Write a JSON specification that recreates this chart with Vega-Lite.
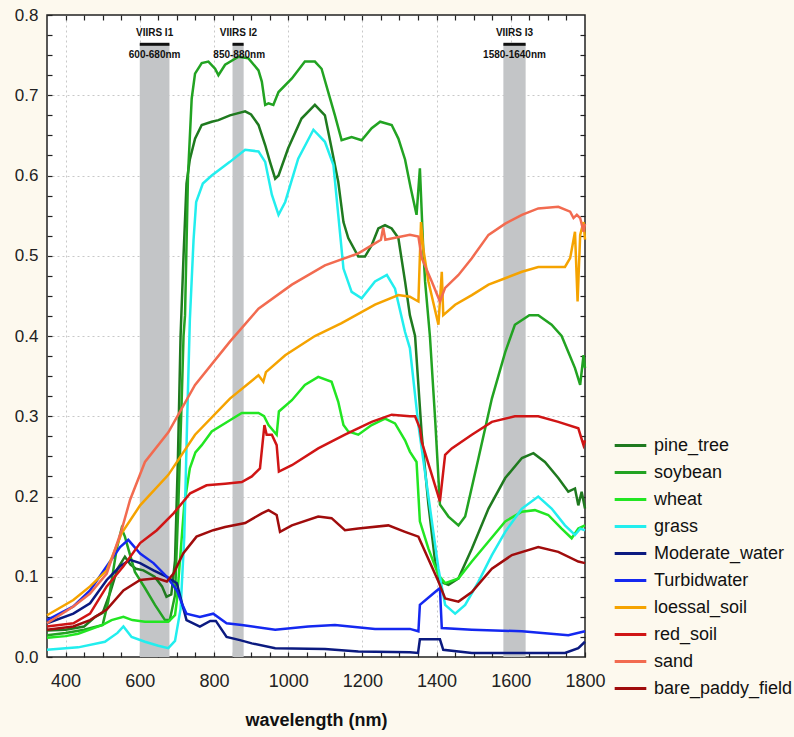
{
  "$schema": "https://vega.github.io/schema/vega-lite/v6.json",
  "width": 538,
  "height": 642,
  "autosize": {"type": "none"},
  "padding": {"left": 47, "top": 15, "right": 209, "bottom": 80},
  "background": "#fdf9ee",
  "config": {
    "view": {"stroke": "#222", "strokeWidth": 1.5, "fill": "white"},
    "font": "Liberation Sans"
  },
  "datasets": {
    "bands": [
      {"a": 600, "b": 680, "y0": 0, "y1": 0.764},
      {"a": 850, "b": 880, "y0": 0, "y1": 0.764},
      {"a": 1580, "b": 1640, "y0": 0, "y1": 0.764}
    ],
    "labels": [
      {"t": "VIIRS I1", "x": 640, "y": 0.777},
      {"t": "600-680nm", "x": 640, "y": 0.750},
      {"t": "VIIRS I2", "x": 866, "y": 0.777},
      {"t": "850-880nm", "x": 868, "y": 0.750},
      {"t": "VIIRS I3", "x": 1610, "y": 0.777},
      {"t": "1580-1640nm", "x": 1610, "y": 0.750}
    ],
    "spectra": [
      {"s":"pine_tree","w":350,"v":0.033},{"s":"pine_tree","w":400,"v":0.034},{"s":"pine_tree","w":450,"v":0.038},{"s":"pine_tree","w":480,"v":0.05},{"s":"pine_tree","w":500,"v":0.055},{"s":"pine_tree","w":520,"v":0.08},{"s":"pine_tree","w":540,"v":0.11},{"s":"pine_tree","w":560,"v":0.125},{"s":"pine_tree","w":575,"v":0.115},{"s":"pine_tree","w":590,"v":0.11},{"s":"pine_tree","w":610,"v":0.108},{"s":"pine_tree","w":640,"v":0.1},{"s":"pine_tree","w":660,"v":0.088},{"s":"pine_tree","w":672,"v":0.075},{"s":"pine_tree","w":685,"v":0.078},{"s":"pine_tree","w":695,"v":0.12},{"s":"pine_tree","w":703,"v":0.25},{"s":"pine_tree","w":710,"v":0.4},{"s":"pine_tree","w":718,"v":0.5},{"s":"pine_tree","w":726,"v":0.59},{"s":"pine_tree","w":735,"v":0.62},{"s":"pine_tree","w":749,"v":0.646},{"s":"pine_tree","w":767,"v":0.663},{"s":"pine_tree","w":794,"v":0.667},{"s":"pine_tree","w":812,"v":0.669},{"s":"pine_tree","w":843,"v":0.675},{"s":"pine_tree","w":884,"v":0.68},{"s":"pine_tree","w":900,"v":0.676},{"s":"pine_tree","w":920,"v":0.663},{"s":"pine_tree","w":938,"v":0.638},{"s":"pine_tree","w":951,"v":0.617},{"s":"pine_tree","w":965,"v":0.596},{"s":"pine_tree","w":974,"v":0.6},{"s":"pine_tree","w":1000,"v":0.634},{"s":"pine_tree","w":1036,"v":0.671},{"s":"pine_tree","w":1072,"v":0.688},{"s":"pine_tree","w":1099,"v":0.675},{"s":"pine_tree","w":1117,"v":0.634},{"s":"pine_tree","w":1135,"v":0.592},{"s":"pine_tree","w":1149,"v":0.542},{"s":"pine_tree","w":1162,"v":0.522},{"s":"pine_tree","w":1189,"v":0.499},{"s":"pine_tree","w":1207,"v":0.499},{"s":"pine_tree","w":1225,"v":0.513},{"s":"pine_tree","w":1243,"v":0.534},{"s":"pine_tree","w":1261,"v":0.538},{"s":"pine_tree","w":1279,"v":0.534},{"s":"pine_tree","w":1297,"v":0.522},{"s":"pine_tree","w":1315,"v":0.468},{"s":"pine_tree","w":1328,"v":0.426},{"s":"pine_tree","w":1342,"v":0.4},{"s":"pine_tree","w":1360,"v":0.277},{"s":"pine_tree","w":1378,"v":0.19},{"s":"pine_tree","w":1396,"v":0.119},{"s":"pine_tree","w":1409,"v":0.094},{"s":"pine_tree","w":1432,"v":0.09},{"s":"pine_tree","w":1459,"v":0.098},{"s":"pine_tree","w":1495,"v":0.135},{"s":"pine_tree","w":1540,"v":0.185},{"s":"pine_tree","w":1585,"v":0.223},{"s":"pine_tree","w":1630,"v":0.248},{"s":"pine_tree","w":1661,"v":0.254},{"s":"pine_tree","w":1692,"v":0.243},{"s":"pine_tree","w":1728,"v":0.223},{"s":"pine_tree","w":1755,"v":0.206},{"s":"pine_tree","w":1773,"v":0.21},{"s":"pine_tree","w":1782,"v":0.189},{"s":"pine_tree","w":1791,"v":0.206},{"s":"pine_tree","w":1800,"v":0.185},
      {"s":"soybean","w":350,"v":0.027},{"s":"soybean","w":400,"v":0.03},{"s":"soybean","w":450,"v":0.034},{"s":"soybean","w":500,"v":0.04},{"s":"soybean","w":515,"v":0.069},{"s":"soybean","w":538,"v":0.135},{"s":"soybean","w":551,"v":0.16},{"s":"soybean","w":560,"v":0.15},{"s":"soybean","w":569,"v":0.135},{"s":"soybean","w":587,"v":0.106},{"s":"soybean","w":614,"v":0.086},{"s":"soybean","w":641,"v":0.065},{"s":"soybean","w":668,"v":0.046},{"s":"soybean","w":681,"v":0.046},{"s":"soybean","w":695,"v":0.077},{"s":"soybean","w":704,"v":0.19},{"s":"soybean","w":713,"v":0.32},{"s":"soybean","w":718,"v":0.4},{"s":"soybean","w":722,"v":0.426},{"s":"soybean","w":730,"v":0.6},{"s":"soybean","w":740,"v":0.696},{"s":"soybean","w":749,"v":0.727},{"s":"soybean","w":767,"v":0.74},{"s":"soybean","w":785,"v":0.742},{"s":"soybean","w":803,"v":0.733},{"s":"soybean","w":812,"v":0.725},{"s":"soybean","w":830,"v":0.738},{"s":"soybean","w":866,"v":0.748},{"s":"soybean","w":893,"v":0.746},{"s":"soybean","w":920,"v":0.731},{"s":"soybean","w":929,"v":0.717},{"s":"soybean","w":938,"v":0.688},{"s":"soybean","w":947,"v":0.69},{"s":"soybean","w":960,"v":0.688},{"s":"soybean","w":974,"v":0.704},{"s":"soybean","w":1010,"v":0.721},{"s":"soybean","w":1045,"v":0.742},{"s":"soybean","w":1072,"v":0.742},{"s":"soybean","w":1090,"v":0.733},{"s":"soybean","w":1108,"v":0.704},{"s":"soybean","w":1126,"v":0.675},{"s":"soybean","w":1144,"v":0.644},{"s":"soybean","w":1171,"v":0.648},{"s":"soybean","w":1198,"v":0.644},{"s":"soybean","w":1225,"v":0.659},{"s":"soybean","w":1248,"v":0.667},{"s":"soybean","w":1279,"v":0.663},{"s":"soybean","w":1297,"v":0.646},{"s":"soybean","w":1315,"v":0.62},{"s":"soybean","w":1330,"v":0.585},{"s":"soybean","w":1346,"v":0.551},{"s":"soybean","w":1355,"v":0.609},{"s":"soybean","w":1364,"v":0.509},{"s":"soybean","w":1369,"v":0.468},{"s":"soybean","w":1382,"v":0.4},{"s":"soybean","w":1396,"v":0.297},{"s":"soybean","w":1409,"v":0.19},{"s":"soybean","w":1432,"v":0.175},{"s":"soybean","w":1459,"v":0.164},{"s":"soybean","w":1477,"v":0.175},{"s":"soybean","w":1513,"v":0.248},{"s":"soybean","w":1549,"v":0.322},{"s":"soybean","w":1585,"v":0.38},{"s":"soybean","w":1611,"v":0.414},{"s":"soybean","w":1650,"v":0.426},{"s":"soybean","w":1674,"v":0.426},{"s":"soybean","w":1710,"v":0.414},{"s":"soybean","w":1737,"v":0.4},{"s":"soybean","w":1755,"v":0.38},{"s":"soybean","w":1773,"v":0.36},{"s":"soybean","w":1787,"v":0.339},{"s":"soybean","w":1796,"v":0.376},{"s":"soybean","w":1800,"v":0.36},
      {"s":"wheat","w":350,"v":0.024},{"s":"wheat","w":400,"v":0.026},{"s":"wheat","w":434,"v":0.029},{"s":"wheat","w":500,"v":0.04},{"s":"wheat","w":524,"v":0.046},{"s":"wheat","w":556,"v":0.05},{"s":"wheat","w":580,"v":0.046},{"s":"wheat","w":614,"v":0.044},{"s":"wheat","w":650,"v":0.044},{"s":"wheat","w":677,"v":0.044},{"s":"wheat","w":695,"v":0.052},{"s":"wheat","w":700,"v":0.07},{"s":"wheat","w":710,"v":0.13},{"s":"wheat","w":720,"v":0.19},{"s":"wheat","w":735,"v":0.235},{"s":"wheat","w":750,"v":0.255},{"s":"wheat","w":767,"v":0.264},{"s":"wheat","w":794,"v":0.281},{"s":"wheat","w":843,"v":0.295},{"s":"wheat","w":875,"v":0.304},{"s":"wheat","w":920,"v":0.304},{"s":"wheat","w":935,"v":0.3},{"s":"wheat","w":947,"v":0.289},{"s":"wheat","w":969,"v":0.277},{"s":"wheat","w":975,"v":0.306},{"s":"wheat","w":1010,"v":0.32},{"s":"wheat","w":1045,"v":0.339},{"s":"wheat","w":1081,"v":0.349},{"s":"wheat","w":1117,"v":0.343},{"s":"wheat","w":1135,"v":0.318},{"s":"wheat","w":1149,"v":0.289},{"s":"wheat","w":1162,"v":0.281},{"s":"wheat","w":1189,"v":0.277},{"s":"wheat","w":1225,"v":0.289},{"s":"wheat","w":1261,"v":0.297},{"s":"wheat","w":1288,"v":0.291},{"s":"wheat","w":1315,"v":0.27},{"s":"wheat","w":1328,"v":0.256},{"s":"wheat","w":1346,"v":0.243},{"s":"wheat","w":1355,"v":0.169},{"s":"wheat","w":1378,"v":0.135},{"s":"wheat","w":1405,"v":0.102},{"s":"wheat","w":1423,"v":0.092},{"s":"wheat","w":1459,"v":0.098},{"s":"wheat","w":1495,"v":0.119},{"s":"wheat","w":1540,"v":0.144},{"s":"wheat","w":1585,"v":0.169},{"s":"wheat","w":1630,"v":0.181},{"s":"wheat","w":1665,"v":0.183},{"s":"wheat","w":1701,"v":0.177},{"s":"wheat","w":1737,"v":0.16},{"s":"wheat","w":1764,"v":0.148},{"s":"wheat","w":1782,"v":0.16},{"s":"wheat","w":1800,"v":0.164},
      {"s":"grass","w":350,"v":0.009},{"s":"grass","w":434,"v":0.012},{"s":"grass","w":506,"v":0.019},{"s":"grass","w":540,"v":0.03},{"s":"grass","w":556,"v":0.038},{"s":"grass","w":578,"v":0.025},{"s":"grass","w":614,"v":0.019},{"s":"grass","w":650,"v":0.014},{"s":"grass","w":677,"v":0.011},{"s":"grass","w":695,"v":0.02},{"s":"grass","w":710,"v":0.06},{"s":"grass","w":720,"v":0.15},{"s":"grass","w":728,"v":0.3},{"s":"grass","w":735,"v":0.42},{"s":"grass","w":745,"v":0.52},{"s":"grass","w":752,"v":0.567},{"s":"grass","w":770,"v":0.59},{"s":"grass","w":794,"v":0.6},{"s":"grass","w":843,"v":0.617},{"s":"grass","w":884,"v":0.632},{"s":"grass","w":920,"v":0.63},{"s":"grass","w":938,"v":0.617},{"s":"grass","w":956,"v":0.576},{"s":"grass","w":974,"v":0.551},{"s":"grass","w":992,"v":0.567},{"s":"grass","w":1027,"v":0.621},{"s":"grass","w":1068,"v":0.657},{"s":"grass","w":1099,"v":0.642},{"s":"grass","w":1122,"v":0.613},{"s":"grass","w":1135,"v":0.551},{"s":"grass","w":1149,"v":0.484},{"s":"grass","w":1171,"v":0.455},{"s":"grass","w":1198,"v":0.447},{"s":"grass","w":1234,"v":0.468},{"s":"grass","w":1266,"v":0.476},{"s":"grass","w":1288,"v":0.459},{"s":"grass","w":1315,"v":0.405},{"s":"grass","w":1328,"v":0.385},{"s":"grass","w":1351,"v":0.289},{"s":"grass","w":1378,"v":0.2},{"s":"grass","w":1405,"v":0.11},{"s":"grass","w":1423,"v":0.065},{"s":"grass","w":1450,"v":0.054},{"s":"grass","w":1477,"v":0.065},{"s":"grass","w":1513,"v":0.094},{"s":"grass","w":1549,"v":0.127},{"s":"grass","w":1585,"v":0.156},{"s":"grass","w":1630,"v":0.185},{"s":"grass","w":1674,"v":0.2},{"s":"grass","w":1710,"v":0.185},{"s":"grass","w":1746,"v":0.164},{"s":"grass","w":1773,"v":0.152},{"s":"grass","w":1787,"v":0.16},{"s":"grass","w":1800,"v":0.158},
      {"s":"Moderate_water","w":350,"v":0.042},{"s":"Moderate_water","w":421,"v":0.054},{"s":"Moderate_water","w":466,"v":0.067},{"s":"Moderate_water","w":511,"v":0.096},{"s":"Moderate_water","w":547,"v":0.113},{"s":"Moderate_water","w":574,"v":0.121},{"s":"Moderate_water","w":601,"v":0.117},{"s":"Moderate_water","w":637,"v":0.108},{"s":"Moderate_water","w":673,"v":0.1},{"s":"Moderate_water","w":700,"v":0.092},{"s":"Moderate_water","w":715,"v":0.065},{"s":"Moderate_water","w":726,"v":0.046},{"s":"Moderate_water","w":762,"v":0.038},{"s":"Moderate_water","w":790,"v":0.045},{"s":"Moderate_water","w":805,"v":0.045},{"s":"Moderate_water","w":834,"v":0.025},{"s":"Moderate_water","w":870,"v":0.021},{"s":"Moderate_water","w":902,"v":0.017},{"s":"Moderate_water","w":965,"v":0.011},{"s":"Moderate_water","w":1099,"v":0.01},{"s":"Moderate_water","w":1189,"v":0.007},{"s":"Moderate_water","w":1328,"v":0.006},{"s":"Moderate_water","w":1350,"v":0.005},{"s":"Moderate_water","w":1355,"v":0.022},{"s":"Moderate_water","w":1409,"v":0.022},{"s":"Moderate_water","w":1418,"v":0.009},{"s":"Moderate_water","w":1495,"v":0.005},{"s":"Moderate_water","w":1746,"v":0.005},{"s":"Moderate_water","w":1782,"v":0.011},{"s":"Moderate_water","w":1800,"v":0.019},
      {"s":"Turbidwater","w":350,"v":0.046},{"s":"Turbidwater","w":421,"v":0.063},{"s":"Turbidwater","w":466,"v":0.083},{"s":"Turbidwater","w":511,"v":0.113},{"s":"Turbidwater","w":547,"v":0.137},{"s":"Turbidwater","w":569,"v":0.146},{"s":"Turbidwater","w":601,"v":0.129},{"s":"Turbidwater","w":637,"v":0.117},{"s":"Turbidwater","w":673,"v":0.1},{"s":"Turbidwater","w":700,"v":0.083},{"s":"Turbidwater","w":715,"v":0.065},{"s":"Turbidwater","w":726,"v":0.054},{"s":"Turbidwater","w":762,"v":0.05},{"s":"Turbidwater","w":798,"v":0.054},{"s":"Turbidwater","w":834,"v":0.042},{"s":"Turbidwater","w":875,"v":0.04},{"s":"Turbidwater","w":965,"v":0.034},{"s":"Turbidwater","w":1054,"v":0.038},{"s":"Turbidwater","w":1126,"v":0.04},{"s":"Turbidwater","w":1234,"v":0.035},{"s":"Turbidwater","w":1328,"v":0.035},{"s":"Turbidwater","w":1351,"v":0.032},{"s":"Turbidwater","w":1355,"v":0.065},{"s":"Turbidwater","w":1396,"v":0.081},{"s":"Turbidwater","w":1409,"v":0.086},{"s":"Turbidwater","w":1414,"v":0.036},{"s":"Turbidwater","w":1495,"v":0.034},{"s":"Turbidwater","w":1630,"v":0.032},{"s":"Turbidwater","w":1755,"v":0.027},{"s":"Turbidwater","w":1800,"v":0.032},
      {"s":"loessal_soil","w":350,"v":0.052},{"s":"loessal_soil","w":421,"v":0.071},{"s":"loessal_soil","w":466,"v":0.088},{"s":"loessal_soil","w":511,"v":0.108},{"s":"loessal_soil","w":551,"v":0.154},{"s":"loessal_soil","w":601,"v":0.189},{"s":"loessal_soil","w":677,"v":0.227},{"s":"loessal_soil","w":749,"v":0.277},{"s":"loessal_soil","w":843,"v":0.322},{"s":"loessal_soil","w":920,"v":0.351},{"s":"loessal_soil","w":933,"v":0.343},{"s":"loessal_soil","w":940,"v":0.355},{"s":"loessal_soil","w":992,"v":0.376},{"s":"loessal_soil","w":1072,"v":0.4},{"s":"loessal_soil","w":1144,"v":0.416},{"s":"loessal_soil","w":1234,"v":0.439},{"s":"loessal_soil","w":1297,"v":0.451},{"s":"loessal_soil","w":1328,"v":0.449},{"s":"loessal_soil","w":1351,"v":0.443},{"s":"loessal_soil","w":1358,"v":0.542},{"s":"loessal_soil","w":1364,"v":0.509},{"s":"loessal_soil","w":1378,"v":0.468},{"s":"loessal_soil","w":1405,"v":0.414},{"s":"loessal_soil","w":1414,"v":0.48},{"s":"loessal_soil","w":1418,"v":0.426},{"s":"loessal_soil","w":1450,"v":0.439},{"s":"loessal_soil","w":1495,"v":0.451},{"s":"loessal_soil","w":1540,"v":0.464},{"s":"loessal_soil","w":1585,"v":0.472},{"s":"loessal_soil","w":1630,"v":0.48},{"s":"loessal_soil","w":1674,"v":0.486},{"s":"loessal_soil","w":1746,"v":0.486},{"s":"loessal_soil","w":1760,"v":0.497},{"s":"loessal_soil","w":1773,"v":0.53},{"s":"loessal_soil","w":1780,"v":0.443},{"s":"loessal_soil","w":1787,"v":0.526},{"s":"loessal_soil","w":1796,"v":0.542},{"s":"loessal_soil","w":1800,"v":0.52},
      {"s":"red_soil","w":350,"v":0.038},{"s":"red_soil","w":421,"v":0.042},{"s":"red_soil","w":466,"v":0.054},{"s":"red_soil","w":511,"v":0.088},{"s":"red_soil","w":556,"v":0.113},{"s":"red_soil","w":601,"v":0.142},{"s":"red_soil","w":646,"v":0.158},{"s":"red_soil","w":691,"v":0.179},{"s":"red_soil","w":736,"v":0.204},{"s":"red_soil","w":780,"v":0.214},{"s":"red_soil","w":830,"v":0.216},{"s":"red_soil","w":875,"v":0.218},{"s":"red_soil","w":902,"v":0.225},{"s":"red_soil","w":924,"v":0.235},{"s":"red_soil","w":936,"v":0.289},{"s":"red_soil","w":942,"v":0.277},{"s":"red_soil","w":956,"v":0.277},{"s":"red_soil","w":969,"v":0.264},{"s":"red_soil","w":975,"v":0.231},{"s":"red_soil","w":1010,"v":0.239},{"s":"red_soil","w":1081,"v":0.26},{"s":"red_soil","w":1153,"v":0.277},{"s":"red_soil","w":1225,"v":0.293},{"s":"red_soil","w":1279,"v":0.302},{"s":"red_soil","w":1328,"v":0.3},{"s":"red_soil","w":1342,"v":0.3},{"s":"red_soil","w":1355,"v":0.285},{"s":"red_soil","w":1360,"v":0.268},{"s":"red_soil","w":1409,"v":0.194},{"s":"red_soil","w":1423,"v":0.252},{"s":"red_soil","w":1441,"v":0.26},{"s":"red_soil","w":1495,"v":0.277},{"s":"red_soil","w":1549,"v":0.293},{"s":"red_soil","w":1611,"v":0.3},{"s":"red_soil","w":1674,"v":0.3},{"s":"red_soil","w":1728,"v":0.293},{"s":"red_soil","w":1782,"v":0.285},{"s":"red_soil","w":1796,"v":0.264},{"s":"red_soil","w":1800,"v":0.27},
      {"s":"sand","w":350,"v":0.042},{"s":"sand","w":421,"v":0.063},{"s":"sand","w":466,"v":0.079},{"s":"sand","w":511,"v":0.104},{"s":"sand","w":551,"v":0.158},{"s":"sand","w":574,"v":0.196},{"s":"sand","w":614,"v":0.243},{"s":"sand","w":677,"v":0.28},{"s":"sand","w":749,"v":0.339},{"s":"sand","w":843,"v":0.393},{"s":"sand","w":920,"v":0.434},{"s":"sand","w":1010,"v":0.464},{"s":"sand","w":1099,"v":0.488},{"s":"sand","w":1189,"v":0.503},{"s":"sand","w":1225,"v":0.513},{"s":"sand","w":1250,"v":0.52},{"s":"sand","w":1256,"v":0.535},{"s":"sand","w":1262,"v":0.52},{"s":"sand","w":1328,"v":0.526},{"s":"sand","w":1351,"v":0.524},{"s":"sand","w":1360,"v":0.497},{"s":"sand","w":1387,"v":0.468},{"s":"sand","w":1409,"v":0.443},{"s":"sand","w":1423,"v":0.46},{"s":"sand","w":1459,"v":0.476},{"s":"sand","w":1495,"v":0.497},{"s":"sand","w":1540,"v":0.526},{"s":"sand","w":1585,"v":0.54},{"s":"sand","w":1630,"v":0.551},{"s":"sand","w":1674,"v":0.559},{"s":"sand","w":1728,"v":0.561},{"s":"sand","w":1760,"v":0.555},{"s":"sand","w":1769,"v":0.547},{"s":"sand","w":1778,"v":0.551},{"s":"sand","w":1787,"v":0.547},{"s":"sand","w":1796,"v":0.53},{"s":"sand","w":1800,"v":0.54},
      {"s":"bare_paddy_field","w":350,"v":0.034},{"s":"bare_paddy_field","w":421,"v":0.038},{"s":"bare_paddy_field","w":466,"v":0.046},{"s":"bare_paddy_field","w":511,"v":0.059},{"s":"bare_paddy_field","w":556,"v":0.083},{"s":"bare_paddy_field","w":601,"v":0.096},{"s":"bare_paddy_field","w":646,"v":0.098},{"s":"bare_paddy_field","w":673,"v":0.094},{"s":"bare_paddy_field","w":691,"v":0.104},{"s":"bare_paddy_field","w":717,"v":0.129},{"s":"bare_paddy_field","w":753,"v":0.15},{"s":"bare_paddy_field","w":798,"v":0.158},{"s":"bare_paddy_field","w":830,"v":0.162},{"s":"bare_paddy_field","w":884,"v":0.167},{"s":"bare_paddy_field","w":929,"v":0.179},{"s":"bare_paddy_field","w":947,"v":0.183},{"s":"bare_paddy_field","w":969,"v":0.177},{"s":"bare_paddy_field","w":978,"v":0.156},{"s":"bare_paddy_field","w":1010,"v":0.164},{"s":"bare_paddy_field","w":1081,"v":0.175},{"s":"bare_paddy_field","w":1117,"v":0.173},{"s":"bare_paddy_field","w":1153,"v":0.158},{"s":"bare_paddy_field","w":1189,"v":0.16},{"s":"bare_paddy_field","w":1270,"v":0.164},{"s":"bare_paddy_field","w":1315,"v":0.156},{"s":"bare_paddy_field","w":1351,"v":0.15},{"s":"bare_paddy_field","w":1405,"v":0.094},{"s":"bare_paddy_field","w":1423,"v":0.073},{"s":"bare_paddy_field","w":1459,"v":0.069},{"s":"bare_paddy_field","w":1495,"v":0.081},{"s":"bare_paddy_field","w":1549,"v":0.11},{"s":"bare_paddy_field","w":1603,"v":0.127},{"s":"bare_paddy_field","w":1674,"v":0.137},{"s":"bare_paddy_field","w":1728,"v":0.131},{"s":"bare_paddy_field","w":1782,"v":0.119},{"s":"bare_paddy_field","w":1800,"v":0.117}
    ]
  },
  "layer": [
    {
      "data": {"name": "bands"},
      "mark": {"type": "rect", "color": "#c3c5c7"},
      "encoding": {
        "x": {"field": "a", "type": "quantitative", "scale": {"domain": [350, 1800], "nice": false, "zero": false},
          "axis": {"orient": "top", "title": null, "labels": false, "domain": false, "grid": false, "tickSize": -5, "tickColor": "#222", "tickWidth": 1.2,
            "values": [400,450,500,550,600,650,700,750,800,850,900,950,1000,1050,1100,1150,1200,1250,1300,1350,1400,1450,1500,1550,1600,1650,1700,1750]}},
        "x2": {"field": "b"},
        "y": {"field": "y0", "type": "quantitative", "scale": {"domain": [0, 0.8], "nice": false},
          "axis": {"orient": "right", "title": null, "labels": false, "domain": false, "grid": false, "tickSize": -5, "tickColor": "#222", "tickWidth": 1.2,
            "values": [0.025,0.05,0.075,0.1,0.125,0.15,0.175,0.2,0.225,0.25,0.275,0.3,0.325,0.35,0.375,0.4,0.425,0.45,0.475,0.5,0.525,0.55,0.575,0.6,0.625,0.65,0.675,0.7,0.725,0.75,0.775]}},
        "y2": {"field": "y1"}
      }
    },
    {
      "data": {"name": "spectra"},
      "mark": {"type": "line", "strokeWidth": 2.5, "interpolate": "linear"},
      "encoding": {
        "x": {"field": "w", "type": "quantitative", "scale": {"domain": [350, 1800], "nice": false, "zero": false},
          "axis": {"orient": "bottom", "title": "wavelength (nm)", "titleFont": "Liberation Sans", "titleFontSize": 18, "titleFontWeight": "bold", "titleColor": "#111", "titlePadding": 21,
            "values": [400,450,500,550,600,650,700,750,800,850,900,950,1000,1050,1100,1150,1200,1250,1300,1350,1400,1450,1500,1550,1600,1650,1700,1750,1800],
            "format": "d",
            "labelExpr": "datum.value % 200 === 0 ? datum.label : ''",
            "labelFontSize": 18, "labelColor": "#222", "labelPadding": 20, "labelFlush": false,
            "tickSize": -5, "tickColor": "#222", "tickWidth": 1.2, "domain": false,
            "grid": true, "gridColor": "#c8c8c8", "gridDash": [2, 3],
            "gridOpacity": {"condition": {"test": "datum.value % 200 === 0 && datum.value < 1800", "value": 1}, "value": 0}}},
        "y": {"field": "v", "type": "quantitative", "scale": {"domain": [0, 0.8], "nice": false},
          "axis": {"orient": "left", "title": null,
            "values": [0,0.025,0.05,0.075,0.1,0.125,0.15,0.175,0.2,0.225,0.25,0.275,0.3,0.325,0.35,0.375,0.4,0.425,0.45,0.475,0.5,0.525,0.55,0.575,0.6,0.625,0.65,0.675,0.7,0.725,0.75,0.775,0.8],
            "labelExpr": "abs(datum.value * 10 - round(datum.value * 10)) < 0.001 ? format(datum.value, '.1f') : ''",
            "labelFontSize": 17, "labelColor": "#222", "labelPadding": 14, "labelFlush": false,
            "tickSize": -5, "tickColor": "#222", "tickWidth": 1.2, "domain": false,
            "grid": true, "gridColor": "#c8c8c8", "gridDash": [2, 3],
            "gridOpacity": {"condition": {"test": "abs(datum.value * 10 - round(datum.value * 10)) < 0.001 && datum.value > 0 && datum.value < 0.8", "value": 1}, "value": 0}}},
        "color": {"field": "s", "type": "nominal",
          "scale": {"domain": ["pine_tree","soybean","wheat","grass","Moderate_water","Turbidwater","loessal_soil","red_soil","sand","bare_paddy_field"],
            "range": ["#1f7a1f","#22a322","#22e622","#22eeee","#0b1a80","#1428f0","#f5a300","#d01515","#f26b50","#a00c0c"]},
          "legend": {"orient": "none", "legendX": 566, "legendY": 413, "title": null, "padding": 0,
            "symbolType": "stroke", "symbolSize": 1000, "symbolStrokeWidth": 3, "labelFontSize": 18, "labelColor": "#111", "labelFont": "Liberation Sans",
            "rowPadding": -3, "labelOffset": 6}},
        "order": {"field": "w", "type": "quantitative"}
      }
    },
    {
      "data": {"name": "bands"},
      "mark": {"type": "rule", "color": "#111", "strokeWidth": 3},
      "encoding": {
        "x": {"field": "a", "type": "quantitative", "axis": null},
        "x2": {"field": "b"},
        "y": {"datum": 0.7635, "type": "quantitative", "axis": null}
      }
    },
    {
      "data": {"name": "labels"},
      "mark": {"type": "text", "font": "Liberation Sans", "fontWeight": "bold", "fontSize": 10, "color": "#111", "align": "center", "baseline": "middle"},
      "encoding": {
        "x": {"field": "x", "type": "quantitative", "axis": null},
        "y": {"field": "y", "type": "quantitative", "axis": null},
        "text": {"field": "t"}
      }
    }
  ],
  "resolve": {"axis": {"x": "independent", "y": "independent"}}
}
